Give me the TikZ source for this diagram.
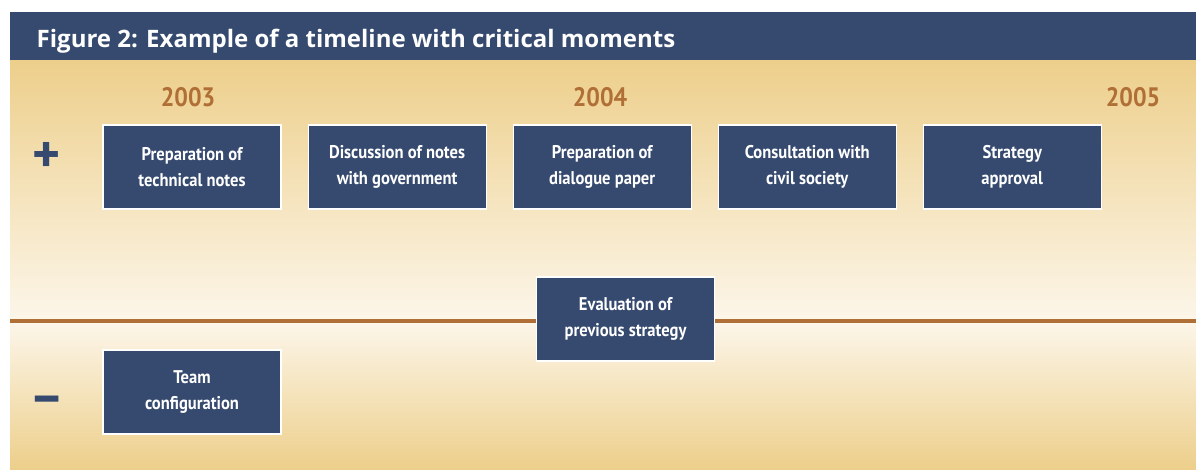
\documentclass[tikz,border=0pt]{standalone}
\usepackage{fontspec}
\setmainfont{PT Sans}
\newfontfamily\narrowfont[FakeStretch=0.9]{PT Sans}
\newfontfamily\titlefont{Open Sans}
\usetikzlibrary{positioning}

\definecolor{navy}{HTML}{364A6F}
\definecolor{gold}{HTML}{EDCF8B}
\definecolor{cream}{HTML}{FCF6EA}
\definecolor{rust}{HTML}{B06F36}

\tikzset{
    event/.style={fill=navy, draw=white, line width=0.8pt, text=white,
        minimum width=133.5pt, minimum height=63pt, align=center,
        font=\narrowfont\bfseries\fontsize{13.8}{19.5}\selectfont},
    year/.style={text=rust, font=\narrowfont\bfseries\fontsize{20}{22}\selectfont},
    sign/.style={text=navy, font=\bfseries\fontsize{40}{40}\selectfont}
}

\begin{document}
\begin{tikzpicture}[x=0.75pt, y=-0.75pt]
    \useasboundingbox (0,0) rectangle (1196,469);

    % background and title bar
    \shade[top color=gold, bottom color=cream] (10,60) rectangle (1196,321);
    \shade[top color=cream, bottom color=gold] (10,321) rectangle (1196,469);
    \fill[navy] (10,12) rectangle (1196,60);
    \node[anchor=base west, text=white, font=\titlefont\bfseries\fontsize{18}{20}\selectfont] (title) at (32,47) {Figure 2: Example of a timeline with critical moments};

    % time axis
    \coordinate (start) at (10,321);
    \coordinate (end) at (1196,321);
    \draw[rust, line width=2.4pt] (start) -- (end);

    % years
    \node[year] (y2003) at (188,97) {2003};
    \node[year] (y2004) at (600,97) {2004};
    \node[year] (y2005) at (1133,97) {2005};

    % positive and negative moments
    \node[sign] (plus) at (47,157) {+};
    \node[sign] (minus) at (47,405) {–};

    \node[event] (prep) at (192,167) {Preparation of\\technical notes};
    \node[event, right=19.5pt of prep] (disc) {Discussion of notes\\with government};
    \node[event, right=19.5pt of disc] (dial) {Preparation of\\dialogue paper};
    \node[event, right=19.5pt of dial] (cons) {Consultation with\\civil society};
    \node[event, right=19.5pt of cons] (appr) {Strategy\\approval};

    \node[event] (eval) at (625.5,319) {Evaluation of\\previous strategy};
    \node[event] (team) at (192,392) {Team\\configuration};
\end{tikzpicture}
\end{document}
